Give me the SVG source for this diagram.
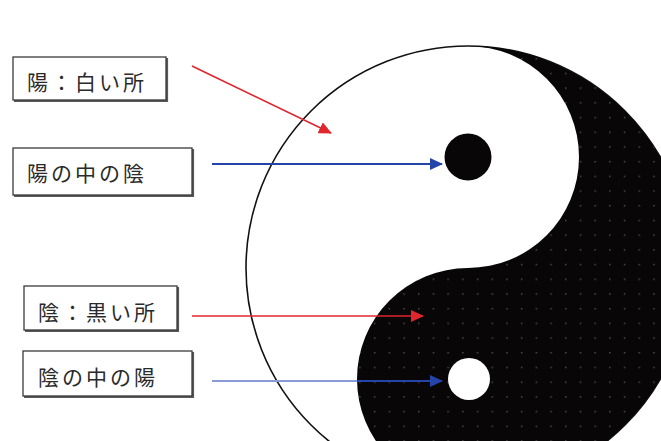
<svg xmlns="http://www.w3.org/2000/svg" width="661" height="441" viewBox="0 0 661 441">
<style>
.box{fill:#fff;stroke:#3a3a3a;stroke-width:1.3}
.shadow{fill:none;stroke:#5a5a5a;stroke-width:2.2}
.lbl{font-family:"Noto Sans CJK JP","Noto Sans CJK SC",sans-serif;font-size:21px;fill:#2a2a2a;letter-spacing:3px}
.red{stroke:#e0262e;stroke-width:1.6;fill:none}
.blue{stroke:#2444aa;stroke-width:1.8;fill:none}
</style>
<defs>
<marker id="ar" markerWidth="13" markerHeight="12" refX="12" refY="6" orient="auto" markerUnits="userSpaceOnUse"><path d="M0,0 L13,6 L0,12 Z" fill="#e0262e"/></marker>
<marker id="ab" markerWidth="13" markerHeight="12" refX="12" refY="6" orient="auto" markerUnits="userSpaceOnUse"><path d="M0,0 L13,6 L0,12 Z" fill="#2444aa"/></marker>
<pattern id="dots" x="6.4" y="13.9" width="14.7" height="14.7" patternUnits="userSpaceOnUse"><rect width="14.7" height="14.7" fill="#080606"/><circle cx="0.8" cy="0.8" r="0.8" fill="#5a5a5a"/></pattern>
<linearGradient id="bg2" gradientUnits="userSpaceOnUse" x1="212" y1="0" x2="442" y2="0"><stop offset="0.63" stop-color="#8a9ad6"/><stop offset="0.63" stop-color="#2444aa"/></linearGradient>
</defs>
<rect width="661" height="441" fill="#fff"/>
<g id="yinyang">
<circle cx="468" cy="268" r="222" fill="#fff" stroke="#111" stroke-width="1.6"/>
<path d="M468,46 A222,222 0 0 1 468,490 A111,111 0 0 1 468,268 A111,111 0 0 0 468,46 Z" fill="url(#dots)"/>
<circle cx="468" cy="157" r="23.5" fill="#080606"/>
<circle cx="469" cy="379" r="21" fill="#fff"/>
</g>
<g id="box-yang">
<path class="shadow" d="M167,58 V101 H14"/>
<rect class="box" x="13" y="57" width="153" height="43"/>
<text class="lbl" x="27" y="90">陽：白い所</text>
</g>
<g id="box-yang-in-yin">
<path class="shadow" d="M193,149 V196 H14"/>
<rect class="box" x="13" y="148" width="179" height="47"/>
<text class="lbl" x="27" y="181">陽の中の陰</text>
</g>
<g id="box-yin">
<path class="shadow" d="M178,287 V331 H25"/>
<rect class="box" x="24" y="286" width="153" height="44"/>
<text class="lbl" x="38" y="320">陰：黒い所</text>
</g>
<g id="box-yin-in-yang">
<path class="shadow" d="M193,352 V397 H24"/>
<rect class="box" x="23" y="351" width="169" height="45"/>
<text class="lbl" x="38" y="385">陰の中の陽</text>
</g>
<g id="connectors">
<path class="red" d="M192,66 L331,133" marker-end="url(#ar)"/>
<path class="blue" d="M212,164 L442,164" marker-end="url(#ab)"/>
<path class="red" d="M192,316 L423,316" marker-end="url(#ar)"/>
<path d="M212,381 L442,381" stroke="url(#bg2)" stroke-width="1.8" fill="none" marker-end="url(#ab)"/>
</g>
</svg>
